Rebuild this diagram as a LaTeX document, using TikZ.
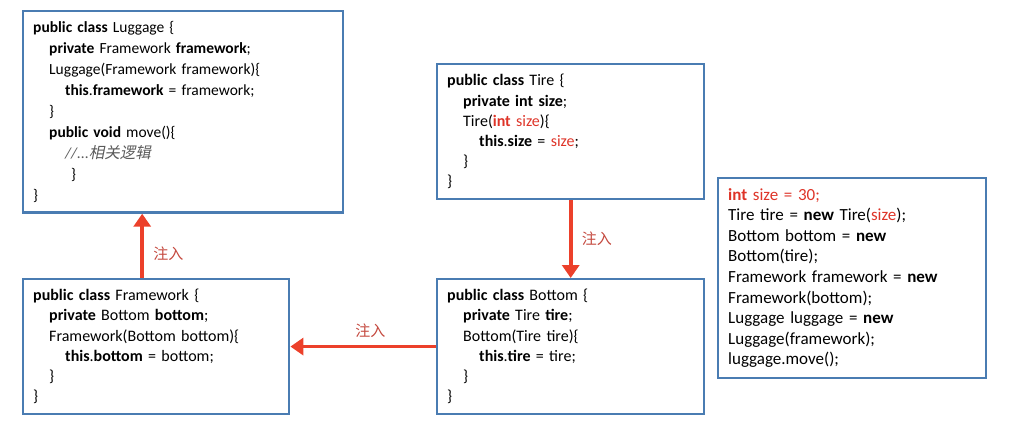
\documentclass[tikz,border=0pt]{standalone}
\usepackage{fontspec}
\setmainfont{Carlito}
\newfontfamily\cjk{Noto Sans CJK SC}
\newfontfamily\cjkslant[FakeSlant=0.2]{Noto Sans CJK SC}
\usepackage{xcolor}
\usetikzlibrary{arrows.meta,positioning,calc}

\definecolor{boxblue}{RGB}{74,124,178}
\definecolor{arrowred}{RGB}{236,64,42}
\definecolor{labelred}{RGB}{196,72,62}
\definecolor{codered}{RGB}{222,52,40}
\definecolor{commentgray}{RGB}{90,90,90}

\newcommand{\indt}{\hspace*{16pt}}
\newcommand{\kw}[1]{\textbf{#1}}
\newcommand{\rd}[1]{\textcolor{codered}{#1}}

\begin{document}
\begin{tikzpicture}[x=1pt, y=-1pt,
  codebox/.style={draw=boxblue, line width=2.4pt, anchor=north west, align=left,
    inner sep=10pt, font=\fontsize{15.5}{21}\selectfont},
  inject/.style={draw=arrowred, line width=3.6pt, -{Triangle[length=13pt, width=17pt]}},
  injlabel/.style={font=\cjk\fontsize{15}{18}\selectfont, text=labelred}
]
\useasboundingbox (0,0) rectangle (1009,428);

\node[codebox, minimum width=320pt, minimum height=198pt, text width=300pt] (luggage) at (22,10)
  {\kw{public class} Luggage \{\\
   \indt\kw{private} Framework \kw{framework};\\
   \indt Luggage(Framework framework)\{\\
   \indt\indt\kw{this}.\kw{framework} = framework;\\
   \indt\}\\
   \indt\kw{public void} move()\{\\
   \indt\indt\textcolor{commentgray}{\textit{//...}{\cjkslant 相关逻辑}}\\
   \indt\indt\hspace*{6pt}\}\\
   \}};

\node[codebox, minimum width=267pt, minimum height=135pt, text width=247pt, font=\fontsize{16}{20.2}\selectfont] (tire) at (436,63)
  {\kw{public class} Tire \{\\
   \indt\kw{private int size};\\
   \indt Tire(\rd{\kw{int} size})\{\\
   \indt\indt\kw{this}.\kw{size} = \rd{size};\\
   \indt\}\\
   \}};

\node[codebox, minimum width=268pt, minimum height=199pt, text width=248pt, font=\fontsize{17}{20.6}\selectfont] (main) at (717,177)
  {\rd{\kw{int} size = 30;}\\
   Tire tire = \kw{new} Tire(\rd{size});\\
   Bottom bottom = \kw{new}\\
   Bottom(tire);\\
   Framework framework = \kw{new}\\
   Framework(bottom);\\
   Luggage luggage = \kw{new}\\
   Luggage(framework);\\
   luggage.move();};

\node[codebox, minimum width=266pt, minimum height=134pt, text width=246pt, font=\fontsize{16}{20.2}\selectfont] (framework) at (22,278)
  {\kw{public class} Framework \{\\
   \indt\kw{private} Bottom \kw{bottom};\\
   \indt Framework(Bottom bottom)\{\\
   \indt\indt\kw{this}.\kw{bottom} = bottom;\\
   \indt\}\\
   \}};

\node[codebox, minimum width=267pt, minimum height=134pt, text width=247pt, font=\fontsize{16}{20.2}\selectfont] (bottom) at (436,278)
  {\kw{public class} Bottom \{\\
   \indt\kw{private} Tire \kw{tire};\\
   \indt Bottom(Tire tire)\{\\
   \indt\indt\kw{this}.\kw{tire} = tire;\\
   \indt\}\\
   \}};

% injection arrows
\draw[inject] ([xshift=-14pt]framework.north) -- ([xshift=-14pt]framework.north |- luggage.south)
  node[midway, right=6pt, yshift=-8pt, injlabel] {注入};
\draw[inject] (tire.south) -- (bottom.north)
  node[midway, right=6pt, injlabel] {注入};
\draw[inject] (bottom.west) -- (framework.east)
  node[pos=0.45, above=4pt, injlabel] {注入};
\end{tikzpicture}
\end{document}
